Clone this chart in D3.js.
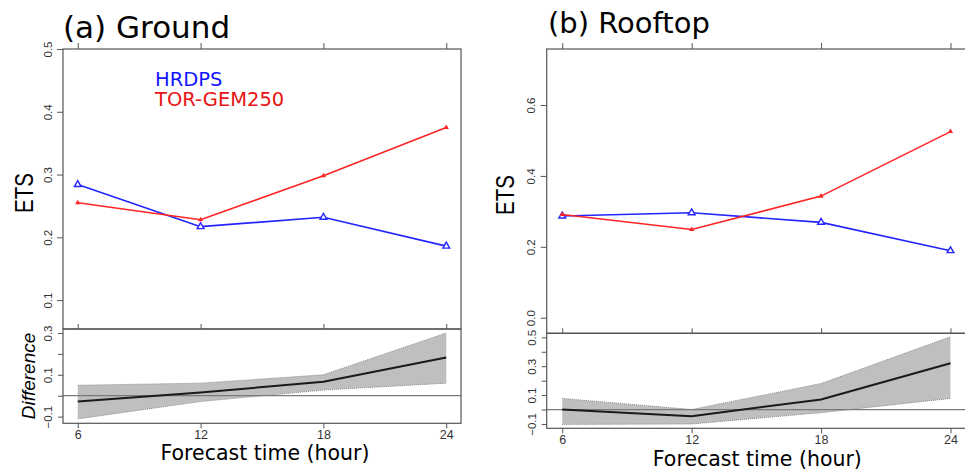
<!DOCTYPE html>
<html>
<head>
<meta charset="utf-8">
<script src="https://cdn.jsdelivr.net/npm/d3@7"></script>
<style>
  body { margin: 0; background: #fff; }
  svg { display: block; }
</style>
</head>
<body>
<div id="chart"></div>
<script>
var hours = [6, 12, 18, 24];
var seriesNames = ["HRDPS", "TOR-GEM250"];

// ETS at ground stations
var groundHRDPS = [0.284, 0.217, 0.232, 0.186];
var groundTOR = [0.255, 0.228, 0.298, 0.375];
// TOR-GEM250 minus HRDPS, with its band
var groundDiff = [-0.028, 0.015, 0.067, 0.183];
var groundLow = [-0.111, -0.028, 0.027, 0.06];
var groundHigh = [0.05, 0.06, 0.1, 0.3];

// ETS at rooftop stations
var roofHRDPS = [0.287, 0.296, 0.269, 0.189];
var roofTOR = [0.291, 0.249, 0.343, 0.525];
var roofDiff = [0.0, -0.046, 0.07, 0.32];
var roofLow = [-0.103, -0.1, -0.022, 0.077];
var roofHigh = [0.077, 0.0, 0.18, 0.504];

// axis limits and ticks
var xLimits = [5.28, 24.72];
var groundLimits = [0.054, 0.5];
var roofLimits = [-0.044, 0.758];
var groundDiffLimits = [-0.132, 0.319];
var roofDiffLimits = [-0.13, 0.528];
var groundTicks = [0.1, 0.2, 0.3, 0.4, 0.5];
var roofTicks = [0.0, 0.2, 0.4, 0.6];
var groundDiffTicks = [-0.1, 0, 0.1, 0.2, 0.3];
var roofDiffTicks = [-0.1, 0, 0.1, 0.2, 0.3, 0.4, 0.5];
var diffLabelled = [-0.1, 0.1, 0.3, 0.5];

var width = 965, height = 473;
var blue = "#2424ff", red = "#ff2424", axisCol = "#555", labCol = "#333";

var svg = d3.select("#chart").append("svg")
  .attr("width", width)
  .attr("height", height);

var panels = [
  {
    title: "(a) Ground", tx: 63, ty: 37.5, tsize: 31,
    x0: 63, x1: 461, top: 49, mid: 329, bottom: 423.3,
    hr: groundHRDPS, tor: groundTOR, diff: groundDiff, lo: groundLow, hi: groundHigh,
    ylim: groundLimits, yticks: groundTicks, dlim: groundDiffLimits, dticks: groundDiffTicks,
    etsX: 33, etsY: 193, xlabY: 460, legend: true, diffLabel: true
  },
  {
    title: "(b) Rooftop", tx: 548, ty: 32.5, tsize: 29,
    x0: 546.7, x1: 966, top: 49, mid: 333.3, bottom: 428.3,
    hr: roofHRDPS, tor: roofTOR, diff: roofDiff, lo: roofLow, hi: roofHigh,
    ylim: roofLimits, yticks: roofTicks, dlim: roofDiffLimits, dticks: roofDiffTicks,
    etsX: 514, etsY: 195, xlabY: 466, legend: false, diffLabel: false
  }
];

function rotateLabels(sel, off) {
  sel.selectAll(".tick text")
    .attr("transform", "rotate(-90)")
    .attr("x", 0)
    .attr("y", -off)
    .attr("dy", 0)
    .style("text-anchor", "middle");
}

function styleAxis(g) {
  g.select(".domain").remove();
  g.selectAll(".tick line").attr("stroke", axisCol);
  g.selectAll(".tick text")
    .attr("fill", labCol)
    .style("font-family", "'Liberation Sans', Arial, sans-serif");
}

panels.forEach(function(p) {
  var x = d3.scaleLinear().domain(xLimits).range([p.x0, p.x1]);
  var y = d3.scaleLinear().domain(p.ylim).range([p.mid, p.top]);
  var yd = d3.scaleLinear().domain(p.dlim).range([p.bottom, p.mid]);
  var g = svg.append("g");

  // title
  g.append("text")
    .attr("x", p.tx).attr("y", p.ty)
    .style("font-family", "'DejaVu Sans', Verdana, sans-serif")
    .style("font-size", p.tsize + "px")
    .attr("fill", "#000")
    .text(p.title);

  // --- upper panel: ETS ---
  var topAx = g.append("g")
    .attr("transform", "translate(0," + p.top + ")")
    .call(d3.axisTop(x).tickValues(hours).tickSize(6).tickFormat(""));
  styleAxis(topAx);

  var leftAx = g.append("g")
    .attr("transform", "translate(" + p.x0 + ",0)")
    .call(d3.axisLeft(y).tickValues(p.yticks).tickSize(6).tickFormat(d3.format(".1f")));
  styleAxis(leftAx);
  leftAx.selectAll(".tick text").style("font-size", "11.5px");
  rotateLabels(leftAx, 11.5);

  g.append("rect")
    .attr("x", p.x0).attr("y", p.top)
    .attr("width", p.x1 - p.x0).attr("height", p.mid - p.top)
    .attr("fill", "none").attr("stroke", axisCol).attr("stroke-width", 1.2);

  g.append("text")
    .attr("transform", "translate(" + p.etsX + "," + p.etsY + ") rotate(-90)")
    .attr("text-anchor", "middle")
    .attr("textLength", 40)
    .attr("lengthAdjust", "spacingAndGlyphs")
    .style("font-family", "'Liberation Sans', Arial, sans-serif")
    .style("font-size", "25px")
    .text("ETS");

  var line = d3.line()
    .x(function(d, i) { return x(hours[i]); })
    .y(function(d) { return y(d); });

  var series = [
    { vals: p.hr, col: blue, open: true },
    { vals: p.tor, col: red, open: false }
  ];
  series.forEach(function(s) {
    g.append("path")
      .datum(s.vals)
      .attr("d", line)
      .attr("fill", "none")
      .attr("stroke", s.col)
      .attr("stroke-width", 1.6);
    g.selectAll(null)
      .data(s.vals)
      .join("path")
      .attr("transform", function(d, i) { return "translate(" + x(hours[i]) + "," + y(d) + ")"; })
      .attr("d", d3.symbol(d3.symbolTriangle, s.open ? 20 : 12))
      .attr("fill", s.open ? "#fff" : s.col)
      .attr("stroke", s.open ? s.col : "none")
      .attr("stroke-width", 1.4);
  });

  if (p.legend) {
    [blue, red].forEach(function(c, i) {
      g.append("text")
        .attr("x", 155).attr("y", 86 + i * 19.5)
        .attr("fill", c === blue ? "#1414ff" : "#e81414")
        .style("font-family", "'DejaVu Sans', Verdana, sans-serif")
        .style("font-size", "19.5px")
        .text(seriesNames[i]);
    });
  }

  // --- lower panel: difference ---
  var band = d3.area()
    .x(function(d, i) { return x(hours[i]); })
    .y0(function(d, i) { return yd(p.lo[i]); })
    .y1(function(d, i) { return yd(p.hi[i]); });

  g.append("path")
    .datum(hours)
    .attr("d", band)
    .attr("fill", "#bfbfbf")
    .attr("stroke", "none");

  [p.lo, p.hi].forEach(function(edge) {
    g.append("path")
      .datum(edge)
      .attr("d", d3.line()
        .x(function(d, i) { return x(hours[i]); })
        .y(function(d) { return yd(d); }))
      .attr("fill", "none")
      .attr("stroke", "#8c8c8c")
      .attr("stroke-width", 1)
      .attr("stroke-dasharray", "1,1");
  });

  g.append("line")
    .attr("x1", p.x0).attr("x2", p.x1)
    .attr("y1", yd(0)).attr("y2", yd(0))
    .attr("stroke", "#7a7a7a").attr("stroke-width", 1.2);

  g.append("path")
    .datum(p.diff)
    .attr("d", d3.line()
      .x(function(d, i) { return x(hours[i]); })
      .y(function(d) { return yd(d); }))
    .attr("fill", "none")
    .attr("stroke", "#1a1a1a")
    .attr("stroke-width", 2);

  var dTop = g.append("g")
    .attr("transform", "translate(0," + p.mid + ")")
    .call(d3.axisTop(x).tickValues(hours).tickSize(5).tickFormat(""));
  styleAxis(dTop);

  var dLeft = g.append("g")
    .attr("transform", "translate(" + p.x0 + ",0)")
    .call(d3.axisLeft(yd).tickValues(p.dticks).tickSize(5)
      .tickFormat(function(d) {
        return diffLabelled.some(function(v) { return Math.abs(v - d) < 1e-9; }) ? d3.format(".1f")(d) : "";
      }));
  styleAxis(dLeft);
  dLeft.selectAll(".tick text").style("font-size", "11.5px");
  rotateLabels(dLeft, 11);

  var dBottom = g.append("g")
    .attr("transform", "translate(0," + p.bottom + ")")
    .call(d3.axisBottom(x).tickValues(hours).tickSize(5).tickPadding(2));
  styleAxis(dBottom);
  dBottom.selectAll(".tick text").style("font-size", "12.5px");

  g.append("rect")
    .attr("x", p.x0).attr("y", p.mid)
    .attr("width", p.x1 - p.x0).attr("height", p.bottom - p.mid)
    .attr("fill", "none").attr("stroke", axisCol).attr("stroke-width", 1.2);

  if (p.diffLabel) {
    g.append("text")
      .attr("transform", "translate(35,376) rotate(-90)")
      .attr("text-anchor", "middle")
      .style("font-family", "'Liberation Sans', Arial, sans-serif")
      .style("font-size", "19px")
      .style("font-style", "italic")
      .text("Difference");
  }

  g.append("text")
    .attr("x", (p.x0 + Math.min(p.x1, 962)) / 2 + 3)
    .attr("y", p.xlabY)
    .attr("text-anchor", "middle")
    .style("font-family", "'DejaVu Sans', Verdana, sans-serif")
    .style("font-size", "20.5px")
    .text("Forecast time (hour)");
});
</script>
</body>
</html>
